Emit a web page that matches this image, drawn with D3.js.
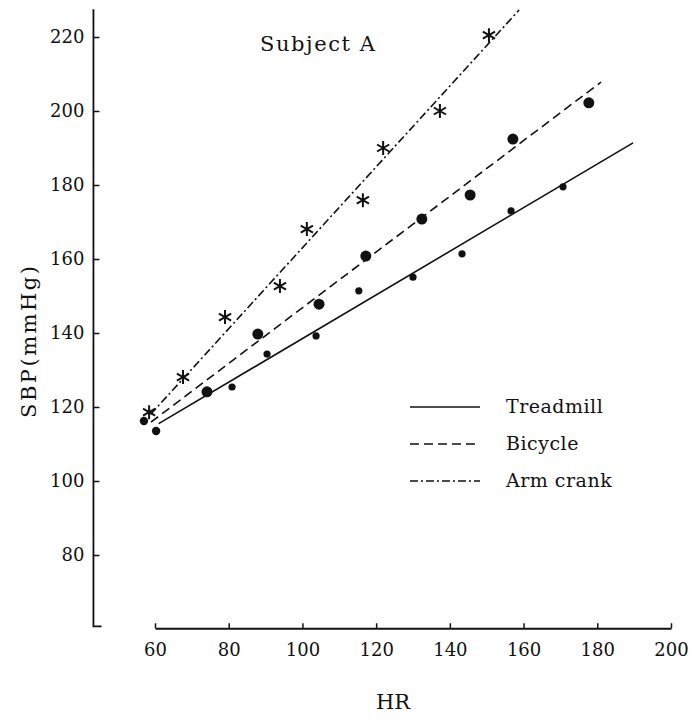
<!DOCTYPE html>
<html>
<head>
<meta charset="utf-8">
<script src="https://cdn.jsdelivr.net/npm/d3@7"></script>
<style>
body { margin:0; background:#fff; }
</style>
</head>
<body>
<div id="chart"></div>
<script>
// HR ticks and SBP ticks
var xTicks = [60, 80, 100, 120, 140, 160, 180, 200];
var yTicks = [80, 100, 120, 140, 160, 180, 200, 220];

// measured points [HR, SBP]
var treadmill = [[60.3,113.5],[80.9,125.4],[90.4,134.3],[103.7,139.2],[115.3,151.4],[130,155.1],[143.3,161.4],[156.6,173],[170.7,179.5]];
var bicycle = [[57,116.2],[74.1,124.1],[87.9,139.7],[104.5,147.8],[117.2,160.8],[132.4,170.8],[145.5,177.3],[157.1,192.4],[177.7,202.2]];
var armCrank = [[58.4,118.6],[67.6,128.1],[79,144.3],[93.9,152.7],[101.2,168.1],[116.4,175.9],[121.9,190],[137.3,200],[150.6,220.5]];

// fitted lines, end points [HR, SBP]
var treadmillLine = [[61,115.5],[189.7,191.4]];
var bicycleLine = [[58.9,115.9],[181,207.8]];
var armCrankLine = [[58.8,118],[158.8,227.3]];

var legendNames = ["Treadmill", "Bicycle", "Arm crank"];
var legendDash = ["none", "9,5", "8,3,2,3"];

var serif = "'DejaVu Serif'";
var ink = "#111";

var width = 692, height = 724;
var svg = d3.select("#chart").append("svg")
	.attr("width", width)
	.attr("height", height)
	.style("font-family", serif);

var x = d3.scaleLinear().domain([60, 200]).range([155, 671]);
var y = d3.scaleLinear().domain([80, 220]).range([555, 37]);

// y axis (broken at the bottom)
var yAxis = d3.axisLeft(y).tickValues(yTicks).tickSizeInner(-6).tickSizeOuter(0).tickPadding(9);
var gy = svg.append("g").attr("transform", "translate(" + x(43.3) + ",0)").call(yAxis);
gy.attr("font-family", null);
gy.select(".domain").remove();
gy.selectAll("text").style("font-family", serif).style("font-size", "18px").attr("fill", ink);
gy.selectAll("line").attr("stroke", ink).attr("stroke-width", 1.5);
svg.append("path")
	.attr("d", "M" + x(43.3) + "," + y(227.5) + "V" + y(60.7) + "H" + x(45.5))
	.attr("fill", "none").attr("stroke", ink).attr("stroke-width", 1.8);

// x axis
var xAxis = d3.axisBottom(x).tickValues(xTicks).tickSizeInner(-5).tickSizeOuter(0).tickPadding(15);
var gx = svg.append("g").attr("transform", "translate(0," + y(60.2) + ")").call(xAxis);
gx.attr("font-family", null);
gx.select(".domain").attr("stroke", ink).attr("stroke-width", 1.8);
gx.selectAll("line").attr("stroke", ink).attr("stroke-width", 1.5);
gx.selectAll("text").style("font-family", serif).style("font-size", "18px").attr("fill", ink);

// fitted lines
var line = d3.line().x(function(d){ return x(d[0]); }).y(function(d){ return y(d[1]); });
[treadmillLine, bicycleLine, armCrankLine].forEach(function(l, i){
	svg.append("path").attr("d", line(l))
		.attr("fill", "none").attr("stroke", ink).attr("stroke-width", 1.6)
		.attr("stroke-dasharray", legendDash[i]);
});

// dots
svg.selectAll(".tm").data(treadmill).enter().append("circle")
	.attr("cx", function(d){ return x(d[0]); })
	.attr("cy", function(d){ return y(d[1]); })
	.attr("r", function(d, i){ return i == 0 ? 4.2 : 3.6; })
	.attr("fill", ink);
svg.selectAll(".bc").data(bicycle).enter().append("circle")
	.attr("cx", function(d){ return x(d[0]); })
	.attr("cy", function(d){ return y(d[1]); })
	.attr("r", function(d, i){ return i == 0 ? 4.2 : 5.5; })
	.attr("fill", ink);

// asterisks
var star = "M0,-7V7M-6.1,-3.5L6.1,3.5M-6.1,3.5L6.1,-3.5";
svg.selectAll(".ac").data(armCrank).enter().append("path")
	.attr("transform", function(d){ return "translate(" + x(d[0]) + "," + y(d[1]) + ")"; })
	.attr("d", star)
	.attr("stroke", ink).attr("stroke-width", 2).attr("fill", "none");

// title and axis labels
svg.append("text").attr("x", 260).attr("y", 51)
	.attr("textLength", 115).attr("lengthAdjust", "spacing")
	.attr("fill", ink).style("font-size", "21px").text("Subject A");
svg.append("text").attr("x", 393).attr("y", 709).attr("text-anchor", "middle")
	.attr("fill", ink).style("font-size", "21px").text("HR");
svg.append("text").attr("transform", "translate(36,418) rotate(-90)")
	.attr("textLength", 152).attr("lengthAdjust", "spacing")
	.attr("fill", ink).style("font-size", "21px").text("SBP(mmHg)");

// legend
var lg = svg.selectAll(".lg").data(legendNames).enter().append("g")
	.attr("transform", function(d, i){ return "translate(410," + (407 + i * 37) + ")"; });
lg.append("line").attr("x1", 0).attr("x2", 70).attr("y1", 0).attr("y2", 0)
	.attr("stroke", ink).attr("stroke-width", 1.6)
	.attr("stroke-dasharray", function(d, i){ return legendDash[i]; });
lg.append("text").attr("x", 96).attr("y", 6)
	.attr("fill", ink).style("font-size", "19px").style("letter-spacing", "0.5px")
	.text(function(d){ return d; });
</script>
</body>
</html>
